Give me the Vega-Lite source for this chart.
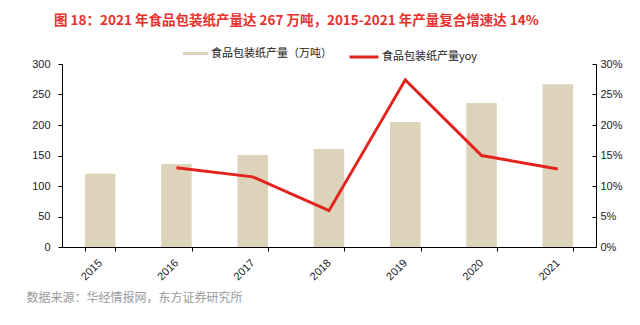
{
  "$schema": "https://vega.github.io/schema/vega-lite/v6.json",
  "autosize": {"type": "none"},
  "width": 534,
  "height": 183,
  "padding": {"left": 62, "top": 64, "right": 44, "bottom": 78},
  "background": "white",
  "title": {
    "text": "图 18：2021 年食品包装纸产量达 267 万吨，2015-2021 年产量复合增速达 14%",
    "anchor": "start",
    "frame": "group",
    "orient": "top",
    "offset": 0,
    "baseline": "middle",
    "dx": -8,
    "dy": -7,
    "font": "Noto Sans CJK SC",
    "fontSize": 13.5,
    "fontWeight": "bold",
    "color": "#e8302c"
  },
  "data": {
    "values": [
      {"year": "2015", "output": 120, "yoy": null},
      {"year": "2016", "output": 136, "yoy": 0.130},
      {"year": "2017", "output": 151, "yoy": 0.115},
      {"year": "2018", "output": 160.5, "yoy": 0.0595},
      {"year": "2019", "output": 205, "yoy": 0.274},
      {"year": "2020", "output": 236, "yoy": 0.150},
      {"year": "2021", "output": 267, "yoy": 0.128}
    ]
  },
  "config": {
    "view": {"stroke": null},
    "axis": {
      "labelFont": "Liberation Sans",
      "labelFontSize": 11,
      "labelColor": "#222",
      "domainColor": "#000",
      "tickColor": "#000",
      "grid": false
    }
  },
  "encoding": {
    "x": {
      "field": "year",
      "type": "ordinal",
      "scale": {"paddingInner": 0.6, "paddingOuter": 0.3},
      "axis": {
        "labelAngle": -45,
        "labelAlign": "right",
        "labelBaseline": "middle",
        "tickBand": "extent",
        "tickSize": 4,
        "labelPadding": 10,
        "title": "数据来源：华经情报网，东方证券研究所",
        "titleX": -36,
        "titleY": 50,
        "titleAlign": "left",
        "titleBaseline": "middle",
        "titleAnchor": "start",
        "titleFont": "Noto Sans CJK SC",
        "titleFontSize": 12,
        "titleFontWeight": "normal",
        "titleColor": "#9a9a9a"
      }
    }
  },
  "layer": [
    {
      "mark": {"type": "bar"},
      "encoding": {
        "y": {
          "field": "output",
          "type": "quantitative",
          "scale": {"domain": [0, 300]},
          "axis": {
            "orient": "left",
            "values": [0, 50, 100, 150, 200, 250, 300],
            "title": null,
            "tickSize": 4,
            "labelPadding": 8
          }
        },
        "fill": {
          "datum": "食品包装纸产量（万吨）",
          "scale": {"range": ["#ddd3bb"]},
          "legend": {
            "title": null,
            "orient": "none",
            "legendX": 121,
            "legendY": -23,
            "symbolType": "M-1,-0.12H1V0.12H-1Z",
            "symbolSize": 625,
            "symbolStrokeWidth": 0,
            "labelFont": "Noto Sans CJK SC",
            "labelFontSize": 11,
            "labelColor": "#222",
            "labelOffset": 3,
            "padding": 0
          }
        }
      }
    },
    {
      "transform": [{"filter": "datum.yoy != null"}],
      "mark": {"type": "line", "strokeWidth": 3},
      "encoding": {
        "y": {
          "field": "yoy",
          "type": "quantitative",
          "scale": {"domain": [0, 0.3]},
          "axis": {
            "orient": "right",
            "values": [0, 0.05, 0.1, 0.15, 0.2, 0.25, 0.3],
            "format": ".0%",
            "title": null,
            "tickSize": -4,
            "labelPadding": 8
          }
        },
        "stroke": {
          "datum": "食品包装纸产量yoy",
          "scale": {"range": ["#e3241e"]},
          "legend": {
            "title": null,
            "orient": "none",
            "legendX": 286,
            "legendY": -23,
            "symbolType": "stroke",
            "symbolSize": 841,
            "symbolStrokeWidth": 3,
            "labelFont": "Noto Sans CJK SC",
            "labelFontSize": 11,
            "labelColor": "#222",
            "labelOffset": 2,
            "padding": 0
          }
        }
      }
    }
  ],
  "resolve": {"scale": {"y": "independent"}}
}
